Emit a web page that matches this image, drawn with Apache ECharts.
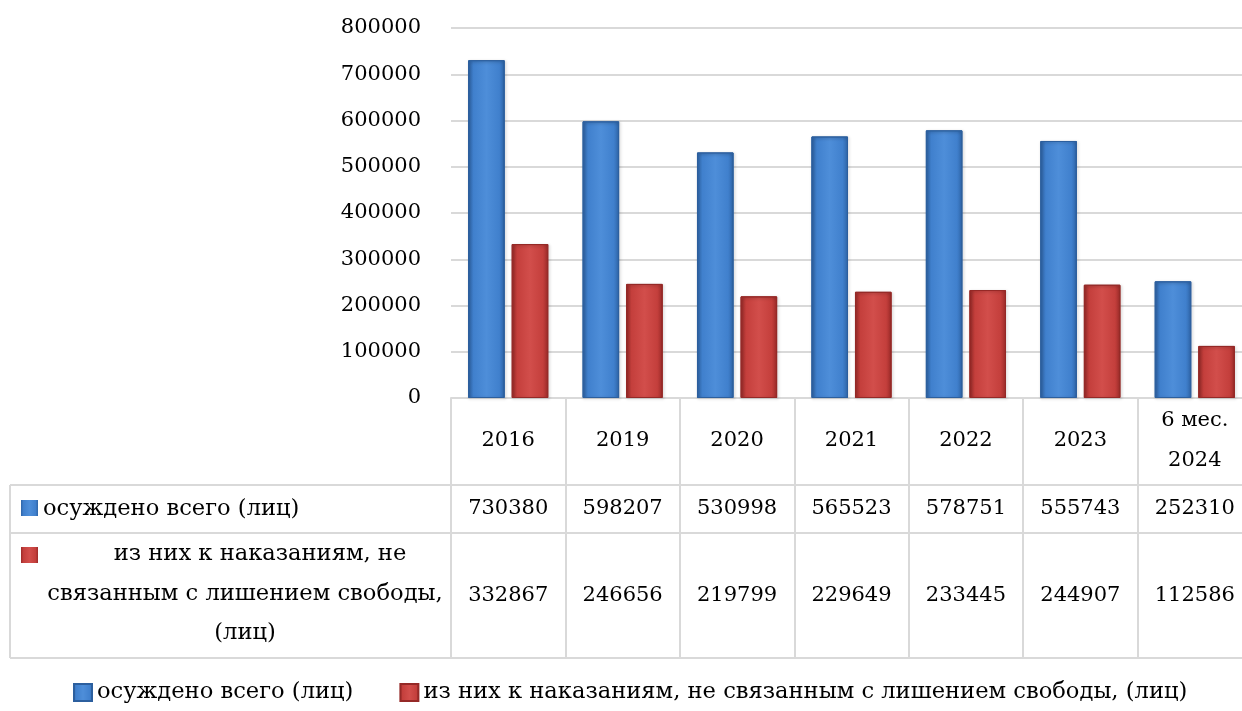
<!DOCTYPE html>
<html>
<head>
<meta charset="utf-8">
<script src="https://cdn.jsdelivr.net/npm/echarts@6/dist/echarts.min.js"></script>
<style>
  html, body { margin: 0; padding: 0; background: #fff; }
  #chart { width: 1242px; height: 711px; }
</style>
</head>
<body>
<div id="chart"></div>
<script>
const years = ['2016', '2019', '2020', '2021', '2022', '2023', '6 мес.\n2024']
const totalConvicted = [730380, 598207, 530998, 565523, 578751, 555743, 252310]
const nonCustodial = [332867, 246656, 219799, 229649, 233445, 244907, 112586]
const seriesNames = [
  'осуждено всего (лиц)',
  'из них к наказаниям, не связанным с лишением свободы, (лиц)',
]
// row labels inside the data table, wrapped like the original
const rowLabels = [
  ['осуждено всего (лиц)'],
  ['из них к наказаниям, не', 'связанным с лишением свободы,', '(лиц)'],
]

const FONT = 'DejaVu Serif'
const FS_NUM = 21
const FS_TEXT = 22.6
const INK = '#000'
const LINE = '#d9d9d9'

const gridLeft = 451
const gridTop = 28
const gridHeight = 370
const gridWidth = 801

function barGradient(dark, mid, light) {
  return new echarts.graphic.LinearGradient(0, 0, 1, 0, [
    { offset: 0, color: dark },
    { offset: 0.15, color: mid },
    { offset: 0.5, color: light },
    { offset: 0.85, color: mid },
    { offset: 1, color: dark },
  ])
}

const blue = barGradient('#2f65a8', '#4080cd', '#4e8ed9')
const red = barGradient('#9c2b29', '#c43f3c', '#d24e4b')

const chart = echarts.init(document.getElementById('chart'))

chart.setOption({
  animation: false,
  textStyle: { fontFamily: FONT },
  grid: {
    left: gridLeft,
    top: gridTop,
    width: gridWidth,
    height: gridHeight,
    outerBoundsMode: 'none',
  },
  legend: {
    bottom: 2,
    left: 68,
    itemWidth: 18,
    itemHeight: 17,
    itemGap: 46,
    icon: 'rect',
    textStyle: { fontFamily: FONT, fontSize: FS_TEXT, color: INK },
    data: seriesNames,
  },
  xAxis: {
    type: 'category',
    data: years,
    axisLine: { show: true, lineStyle: { color: LINE, width: 2 } },
    axisTick: { show: true, length: 260, lineStyle: { color: LINE, width: 2 } },
    axisLabel: {
      margin: 43,
      verticalAlign: 'middle',
      fontFamily: FONT,
      fontSize: FS_NUM,
      lineHeight: 40,
      color: INK,
    },
  },
  yAxis: {
    type: 'value',
    min: 0,
    max: 800000,
    interval: 100000,
    axisLine: { show: false },
    axisTick: { show: false },
    axisLabel: {
      margin: 30,
      fontFamily: FONT,
      fontSize: FS_NUM,
      color: INK,
      formatter: (v) => String(v),
    },
    splitLine: { lineStyle: { color: LINE, width: 2 } },
  },
  series: [
    {
      name: seriesNames[0],
      type: 'bar',
      data: totalConvicted,
      barWidth: '32%',
      barGap: '19%',
      itemStyle: {
        color: blue,
        borderColor: '#2c5f9e',
        borderWidth: 1,
        shadowColor: 'rgba(0,0,0,0.25)',
        shadowBlur: 3,
        shadowOffsetX: 1,
        shadowOffsetY: 1,
      },
    },
    {
      name: seriesNames[1],
      type: 'bar',
      data: nonCustodial,
      barWidth: '32%',
      itemStyle: {
        color: red,
        borderColor: '#952927',
        borderWidth: 1,
        shadowColor: 'rgba(0,0,0,0.25)',
        shadowBlur: 3,
        shadowOffsetX: 1,
        shadowOffsetY: 1,
      },
    },
  ],
})

// data table under the axis
function buildTable() {
  const axisY = gridTop + gridHeight
  const row1Top = 485
  const row2Top = 533
  const bottom = 658
  const tableLeft = 10
  const right = gridLeft + gridWidth
  const els = []
  const line = (x1, y1, x2, y2) => ({
    type: 'line',
    shape: { x1, y1, x2, y2 },
    style: { stroke: LINE, lineWidth: 2 },
  })
  const text = (str, x, y, size, align) => ({
    type: 'text',
    x, y,
    style: {
      text: str,
      font: size + 'px "' + FONT + '"',
      fill: INK,
      align: align || 'center',
      verticalAlign: 'middle',
    },
  })
  els.push(line(tableLeft, row1Top, right, row1Top))
  els.push(line(tableLeft, row2Top, right, row2Top))
  els.push(line(tableLeft, bottom, right, bottom))
  els.push(line(tableLeft, row1Top, tableLeft, bottom))
  els.push(line(gridLeft, axisY, gridLeft, bottom))

  const rows = [
    { values: totalConvicted, y: (row1Top + row2Top) / 2, color: blue, iconY: 508 },
    { values: nonCustodial, y: (row2Top + bottom) / 2, color: red, iconY: 555 },
  ]
  rows.forEach((r, i) => {
    r.values.forEach((v, j) => {
      const x = chart.convertToPixel({ xAxisIndex: 0 }, j)
      els.push(text(String(v), x, r.y, FS_NUM))
    })
    els.push({
      type: 'rect',
      shape: { x: 21, y: r.iconY - 8, width: 17, height: 16 },
      style: { fill: r.color },
    })
  })
  els.push(text(rowLabels[0][0], 43, rows[0].y, FS_TEXT, 'left'))
  els.push(text(rowLabels[1][0], 260, 554, FS_TEXT))
  els.push(text(rowLabels[1][1], 245, 594, FS_TEXT))
  els.push(text(rowLabels[1][2], 245, 633, FS_TEXT))
  chart.setOption({ graphic: els })
}

buildTable()
</script>
</body>
</html>
